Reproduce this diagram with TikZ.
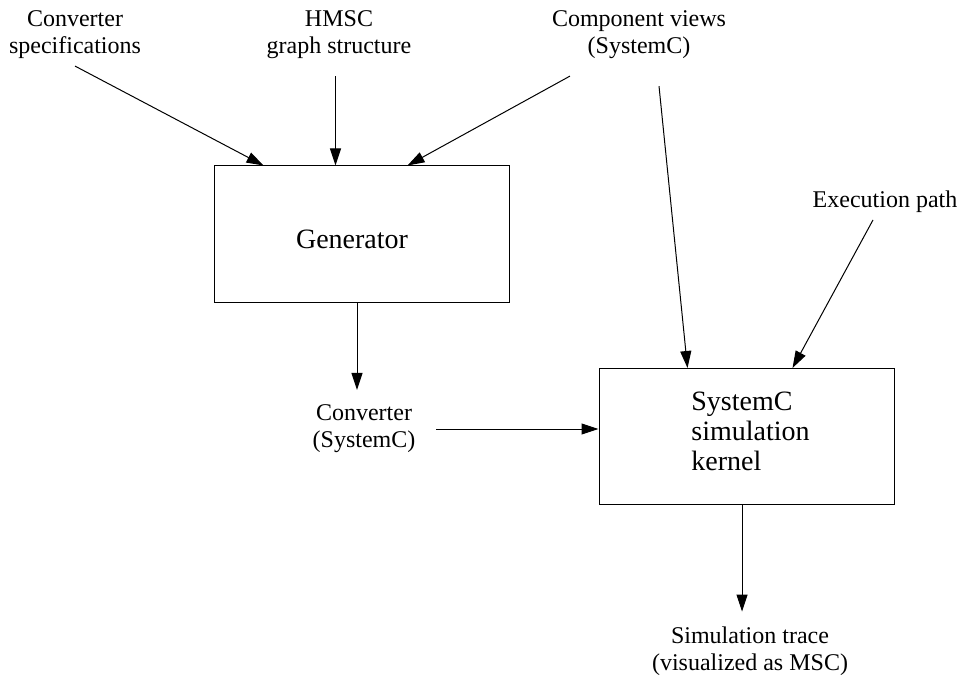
\documentclass[tikz,border=0pt]{standalone}
\usepackage{fontspec}
\setmainfont{Liberation Serif}
\usetikzlibrary{arrows.meta}

\tikzset{lbl/.style={align=center,font=\fontsize{12}{13.5}\selectfont},
blk/.style={draw,line width=0.5pt,inner sep=0pt,minimum width=147.5pt,minimum height=68pt},
blktxt/.style={font=\fontsize{14}{15}\selectfont},
flow/.style={-{Triangle[length=8.5pt,width=5.5pt]},line width=0.5pt}}

\begin{document}
\begin{tikzpicture}[x=0.5pt,y=-0.5pt]
\path[use as bounding box,fill=white](0,0)rectangle(961,678);

\node[lbl](spec) at (75,35) {Converter\\specifications};
\node[lbl](hmsc) at (339,35) {HMSC\\graph structure};
\node[lbl](comp) at (639,35) {Component views\\(SystemC)};
\node[lbl](exec) at (885,202) {Execution path};
\node[lbl](conv) at (364,429) {Converter\\(SystemC)};
\node[lbl](trace) at (750,651) {Simulation trace\\(visualized as MSC)};

\node[blk](gen) at (361.5,234) {};
\node[blktxt](gentxt) at (352,239) {Generator};
\node[blk](kern) at (746.5,436.5) {};
\node[blktxt,align=left,anchor=west,inner sep=0pt](kerntxt) at (691,431) {SystemC\\simulation\\kernel};

\coordinate (g1) at ([xshift=61pt]gen.north west);
\draw[flow](spec.south)--([xshift=25pt]gen.north west);
\draw[flow,shorten <=5pt](hmsc.south -| g1)--(g1);
\draw[flow]([shift={(12.5pt,-5pt)}]comp.south west)--([xshift=97pt]gen.north west);

\draw[flow]([shift={(10pt,-10pt)}]comp.south)--([xshift=44.5pt]kern.north west);
\draw[flow]([xshift=-6pt]exec.south)--([xshift=97pt]kern.north west);

\draw[flow,shorten >=4pt]([xshift=-2.25pt]gen.south)--([xshift=-2.25pt]gen.south |- conv.north);
\draw[flow,shorten <=7pt](conv.east)--(conv.east -| kern.west);
\draw[flow,shorten >=4pt]([xshift=-2.25pt]kern.south)--([xshift=-2.25pt]kern.south |- trace.north);

\end{tikzpicture}
\end{document}
